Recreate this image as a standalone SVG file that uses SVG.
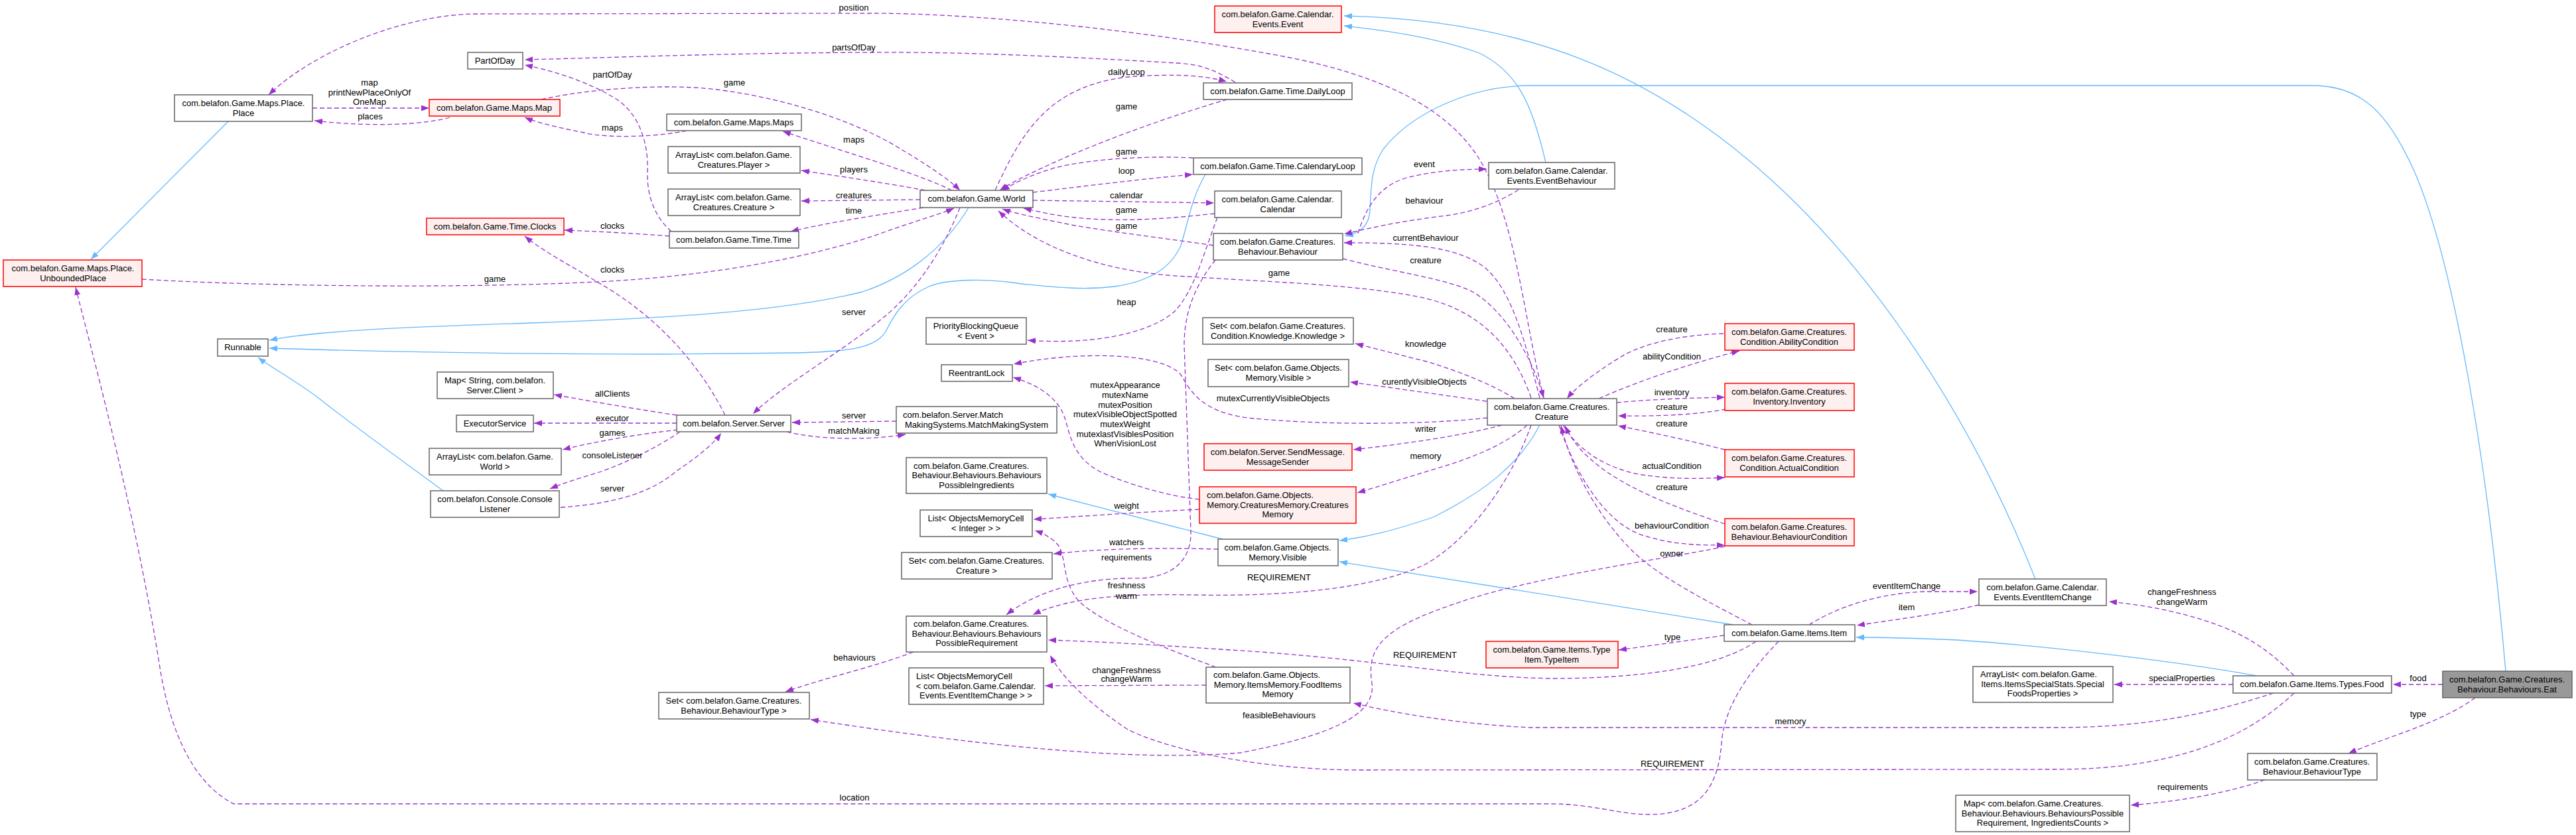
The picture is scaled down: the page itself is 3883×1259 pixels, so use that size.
<svg xmlns="http://www.w3.org/2000/svg" width="3883" height="1259" viewBox="0 0 3883 1259">
<style>
text{font-family:"Liberation Sans",Arial,sans-serif;font-size:13px;fill:#000}
.n rect{fill:#fff;stroke:#666;stroke-width:1.5}
.r rect{fill:#fff0f0;stroke:#f00;stroke-width:1.5}
.g rect{fill:#999;stroke:#666;stroke-width:1.5}
.n text,.r text,.g text{text-anchor:middle}
text.s{text-anchor:start}
.u{fill:none;stroke:#9a32cd;stroke-width:1.3;stroke-dasharray:7,4;marker-end:url(#ap)}
.i{fill:none;stroke:#63b8ff;stroke-width:1.3;marker-end:url(#ab)}
#edges text{text-anchor:middle}
</style>
<defs>
<marker id="ap" markerUnits="userSpaceOnUse" markerWidth="13" markerHeight="10" refX="12" refY="4.5" orient="auto"><path d="M0,0 L12,4.5 L0,9 z" fill="#9a32cd" stroke="none"/></marker>
<marker id="ab" markerUnits="userSpaceOnUse" markerWidth="13" markerHeight="10" refX="12" refY="4.5" orient="auto"><path d="M0,0 L12,4.5 L0,9 z" fill="#63b8ff" stroke="none"/></marker>
</defs>
<rect width="3883" height="1259" fill="#fff"/>
<g id="edges">
<!-- inheritance -->
<path class="i" d="M344,183 L137,391"/>
<path class="i" d="M1460,313 C1420,380 1360,420 1300,440 C1180,470 1000,480 800,487 C620,493 480,498 406,513"/>
<path class="i" d="M1817,263 C1795,300 1790,340 1780,370 C1765,405 1730,425 1680,432 C1630,438 1580,432 1540,428 C1490,420 1430,420 1400,432 C1360,450 1345,480 1335,500 C1320,525 1280,530 1200,532 L1000,534 C700,534 500,528 406,525"/>
<path class="i" d="M668,740 C600,690 530,640 480,600 C440,570 410,555 389,539"/>
<path class="i" d="M3777,1012 C3750,700 3700,400 3640,260 C3600,170 3560,129 3486,129 L2300,129 C2200,132 2120,180 2085,225 C2062,260 2068,300 2064,325 C2060,345 2045,352 2028,356"/>
<path class="i" d="M2330,245 C2310,160 2290,110 2230,80 C2160,55 2080,45 2026,39"/>
<path class="i" d="M3068,873 C2960,600 2800,380 2640,245 C2480,110 2300,30 2026,24"/>
<path class="i" d="M2321,641 C2290,700 2240,740 2160,780 C2100,800 2060,810 2019,815"/>
<path class="i" d="M1843,813 L1580,745"/>
<path class="i" d="M2613,942 L2019,847"/>
<path class="i" d="M3402,1019 C3300,1000 3100,975 2950,965 C2880,962 2830,961 2798,961"/>
<!-- usage -->
<g><path class="u" d="M2327,600 C2295,470 2285,330 2230,240 C2180,160 2080,115 1950,88 C1700,40 1450,20 1313,20 L710,21 C600,25 470,80 405,143"/><text x="1287" y="16">position</text></g>
<g><path class="u" d="M1862,124 C1830,105 1810,97 1773,95 C1600,85 1450,78 1313,79 C1100,80 950,86 791,90"/><text x="1287" y="76">partsOfDay</text></g>
<g><path class="u" d="M1500,287 C1540,200 1580,130 1700,116 C1780,110 1820,115 1849,123"/><text x="1698" y="113">dailyLoop</text></g>
<g><path class="u" d="M1012,349 C990,330 975,300 976,260 C978,210 960,170 930,150 C890,125 840,108 791,98"/><text x="923" y="117">partOfDay</text></g>
<g><path class="u" d="M471,163 L647,163"/><text x="557" y="129">map</text><text x="557" y="144">printNewPlaceOnlyOf</text><text x="557" y="158">OneMap</text></g>
<g><path class="u" d="M678,177 C640,188 560,192 474,182"/><text x="558" y="180">places</text></g>
<g><path class="u" d="M816,150 C880,135 1000,125 1080,135 C1200,150 1300,190 1350,220 C1400,250 1430,270 1447,287"/><text x="1107" y="129">game</text></g>
<g><path class="u" d="M1035,197 C1000,205 920,210 880,200 C840,192 810,185 791,177"/><text x="923" y="197">maps</text></g>
<g><path class="u" d="M1435,287 C1380,260 1260,225 1180,198"/><text x="1287" y="215">maps</text></g>
<g><path class="u" d="M1395,287 C1330,275 1260,265 1208,257"/><text x="1287" y="260">players</text></g>
<g><path class="u" d="M1387,301 L1208,303"/><text x="1287" y="299">creatures</text></g>
<g><path class="u" d="M1392,313 C1320,325 1250,335 1192,349"/><text x="1287" y="322">time</text></g>
<g><path class="u" d="M1009,356 C960,352 900,349 851,347"/><text x="923" y="345">clocks</text></g>
<g><path class="u" d="M1093,626 C1050,540 980,470 900,425 C860,400 820,380 791,356"/><text x="923" y="411">clocks</text></g>
<g><path class="u" d="M214,421 C400,432 700,435 900,425 C1100,415 1250,380 1333,350 C1380,333 1420,322 1438,314"/><text x="746" y="425">game</text></g>
<g><path class="u" d="M1835,328 C1815,380 1800,440 1770,470 C1730,505 1640,520 1549,513"/><text x="1698" y="460">heap</text></g>
<g><path class="u" d="M1850,150 C1780,170 1680,205 1600,240 C1560,258 1530,272 1507,287"/><text x="1698" y="165">game</text></g>
<g><path class="u" d="M1798,238 C1740,235 1650,238 1590,253 C1550,265 1525,278 1510,288"/><text x="1698" y="233">game</text></g>
<g><path class="u" d="M1557,290 C1640,280 1720,270 1798,263"/><text x="1698" y="262">loop</text></g>
<g><path class="u" d="M1557,302 L1830,306"/><text x="1698" y="299">calendar</text></g>
<g><path class="u" d="M1831,322 C1760,330 1690,335 1620,328 C1590,325 1560,318 1543,314"/><text x="1698" y="321">game</text></g>
<g><path class="u" d="M1829,370 C1760,360 1680,350 1620,340 C1570,330 1530,322 1511,315"/><text x="1698" y="345">game</text></g>
<g><path class="u" d="M2308,600 C2280,520 2230,470 2150,450 C2050,428 1900,425 1760,415 C1650,405 1560,370 1505,318"/><text x="1928" y="416">game</text></g>
<g><path class="u" d="M2047,352 C2060,310 2080,280 2120,268 C2160,258 2200,255 2241,255"/><text x="2147" y="252">event</text></g>
<g><path class="u" d="M2289,286 C2260,305 2220,320 2180,325 C2100,335 2060,345 2026,353"/><text x="2147" y="307">behaviour</text></g>
<g><path class="u" d="M2321,600 C2300,520 2280,440 2240,405 C2200,372 2130,366 2026,366"/><text x="2149" y="363">currentBehaviour</text></g>
<g><path class="u" d="M2024,390 C2100,410 2180,420 2220,440 C2270,470 2310,540 2327,600"/><text x="2149" y="397">creature</text></g>
<g><path class="u" d="M2283,601 C2250,580 2200,560 2150,545 C2110,535 2070,525 2043,518"/><text x="2149" y="523">knowledge</text></g>
<g><path class="u" d="M2241,605 C2170,595 2100,585 2035,576"/><text x="2147" y="580">curentlyVisibleObjects</text></g>
<g><path class="u" d="M2242,630 C2150,640 2000,642 1880,630 C1810,620 1795,590 1780,565 C1750,530 1620,530 1528,549"/><text x="1919" y="605">mutexCurrentlyVisibleObjects</text></g>
<g><path class="u" d="M2264,641 C2200,658 2110,670 2040,678"/><text x="2149" y="651">writer</text></g>
<g><path class="u" d="M2302,641 C2270,670 2220,690 2170,705 C2120,720 2080,733 2046,743"/><text x="2149" y="692">memory</text></g>
<g><path class="u" d="M2410,601 C2480,570 2560,545 2622,529"/><text x="2520" y="542">abilityCondition</text></g>
<g><path class="u" d="M2598,503 C2540,505 2480,515 2440,540 C2400,565 2375,585 2362,601"/><text x="2520" y="501">creature</text></g>
<g><path class="u" d="M2437,607 C2490,602 2550,600 2600,599"/><text x="2520" y="596">inventory</text></g>
<g><path class="u" d="M2602,617 C2560,625 2500,628 2439,627"/><text x="2520" y="618">creature</text></g>
<g><path class="u" d="M2600,678 C2550,665 2490,652 2439,642"/><text x="2520" y="643">creature</text></g>
<g><path class="u" d="M2356,641 C2380,680 2420,705 2470,715 C2520,723 2560,722 2600,720"/><text x="2520" y="707">actualCondition</text></g>
<g><path class="u" d="M2600,790 C2540,770 2470,745 2420,710 C2385,685 2370,665 2359,642"/><text x="2520" y="739">creature</text></g>
<g><path class="u" d="M2350,641 C2370,700 2410,780 2470,805 C2520,822 2560,822 2600,822"/><text x="2520" y="797">behaviourCondition</text></g>
<g><path class="u" d="M2641,942 C2580,910 2500,870 2460,830 C2410,780 2370,710 2353,642"/><text x="2520" y="839">owner</text></g>
<g><path class="u" d="M2600,824 C2500,845 2300,870 2180,915 C2080,950 2060,980 2068,1030 C2075,1080 2000,1110 1870,1135 C1700,1150 1450,1120 1222,1085"/><text x="1928" y="1083">feasibleBehaviours</text></g>
<g><path class="u" d="M2308,641 C2280,720 2220,810 2150,850 C2080,885 1950,900 1800,897 C1700,895 1610,900 1557,927"/><text x="1928" y="875">REQUIREMENT</text></g>
<g><path class="u" d="M2647,967 C2600,1000 2500,1023 2337,1023 C2200,1020 2100,998 1900,983 C1780,975 1680,968 1580,965"/><text x="2148" y="992">REQUIREMENT</text></g>
<g><path class="u" d="M3458,1045 C3400,1100 3300,1160 3101,1160 L2050,1161 C1900,1161 1760,1130 1700,1100 C1640,1060 1600,1020 1583,988"/><text x="2521" y="1156">REQUIREMENT</text></g>
<g><path class="u" d="M1832,392 C1810,420 1785,460 1785,520 L1795,800 C1797,850 1760,870 1720,872 C1650,870 1570,885 1517,927"/><text x="1698" y="845">requirements</text></g>
<g><path class="u" d="M1833,1006 C1750,975 1660,940 1625,905 C1600,875 1608,840 1595,822 C1585,810 1572,804 1560,800"/><text x="1698" y="887">freshness</text><text x="1698" y="903">warm</text></g>
<g><path class="u" d="M1808,768 C1720,772 1640,778 1558,783"/><text x="1698" y="767">weight</text></g>
<g><path class="u" d="M1808,753 C1760,748 1700,730 1660,712 C1615,690 1612,650 1605,630 C1595,600 1565,580 1527,569"/><text x="1696" y="585">mutexAppearance</text><text x="1696" y="600">mutexName</text><text x="1696" y="615">mutexPosition</text><text x="1696" y="629">mutexVisibleObjectSpotted</text><text x="1696" y="644">mutexWeight</text><text x="1696" y="659">mutexlastVisiblesPosition</text><text x="1696" y="673">WhenVisionLost</text></g>
<g><path class="u" d="M1836,828 C1760,826 1670,826 1588,835"/><text x="1698" y="822">watchers</text></g>
<g><path class="u" d="M1818,1033 L1575,1034"/><text x="1698" y="1015">changeFreshness</text><text x="1698" y="1028">changeWarm</text></g>
<g><path class="u" d="M1377,983 C1320,1005 1250,1020 1184,1043"/><text x="1288" y="996">behaviours</text></g>
<g><path class="u" d="M3427,1045 C3350,1070 3250,1097 3100,1097 L2308,1097 C2200,1092 2100,1075 2040,1060"/><text x="2699" y="1092">memory</text></g>
<g><path class="u" d="M2681,967 C2640,1010 2600,1060 2595,1120 C2590,1190 2560,1228 2486,1228 C2440,1228 2400,1212 2337,1212 L352,1212 C290,1180 255,1100 240,1000 C200,750 130,500 114,433"/><text x="1288" y="1207">location</text></g>
<g><path class="u" d="M2727,942 C2770,915 2830,895 2900,892 L2981,892"/><text x="2874" y="888">eventItemChange</text></g>
<g><path class="u" d="M2983,912 C2930,925 2870,932 2799,943"/><text x="2874" y="920">item</text></g>
<g><path class="u" d="M3458,1019 C3430,990 3400,965 3350,945 C3290,922 3230,912 3179,907"/><text x="3289" y="897">changeFreshness</text><text x="3289" y="912">changeWarm</text></g>
<g><path class="u" d="M3366,1032 L3187,1032"/><text x="3289" y="1027">specialProperties</text></g>
<g><path class="u" d="M3682,1032 L3607,1032"/><text x="3645" y="1027">food</text></g>
<g><path class="u" d="M3731,1052 C3680,1090 3600,1110 3540,1136"/><text x="3645" y="1081">type</text></g>
<g><path class="u" d="M3414,1176 C3360,1195 3290,1208 3212,1214"/><text x="3290" y="1191">requirements</text></g>
<g><path class="u" d="M2599,958 C2550,965 2490,973 2440,980"/><text x="2521" y="965">type</text></g>
<g><path class="u" d="M1020,626 C960,617 890,605 835,595"/><text x="923" y="598">allClients</text></g>
<g><path class="u" d="M1020,638 L805,638"/><text x="923" y="635">executor</text></g>
<g><path class="u" d="M1022,648 C960,655 900,665 848,678"/><text x="923" y="657">games</text></g>
<g><path class="u" d="M1025,651 C990,675 940,700 900,713 C870,722 850,728 829,737"/><text x="923" y="691">consoleListener</text></g>
<g><path class="u" d="M845,765 C920,760 980,745 1020,710 C1050,690 1075,670 1087,653"/><text x="923" y="741">server</text></g>
<g><path class="u" d="M1447,313 C1420,380 1380,440 1330,480 C1270,530 1180,580 1135,624"/><text x="1287" y="475">server</text></g>
<g><path class="u" d="M1351,635 L1194,637"/><text x="1287" y="631">server</text></g>
<g><path class="u" d="M1186,651 C1230,662 1300,665 1365,655"/><text x="1287" y="654">matchMaking</text></g>
</g>
<g id="nodes">
<g id="place" class="n"><rect x="263" y="143" width="208" height="40"/><text x="367" y="160">com.belafon.Game.Maps.Place.</text><text x="367" y="175">Place</text></g>
<g id="partofday" class="n"><rect x="705" y="79" width="83" height="25"/><text x="746" y="96">PartOfDay</text></g>
<g id="map" class="r"><rect x="647" y="150" width="197" height="25"/><text x="745" y="167">com.belafon.Game.Maps.Map</text></g>
<g id="clocks" class="r"><rect x="643" y="329" width="207" height="25"/><text x="746" y="346">com.belafon.Game.Time.Clocks</text></g>
<g id="unboundedplace" class="r"><rect x="5" y="392" width="209" height="40"/><text x="110" y="409">com.belafon.Game.Maps.Place.</text><text x="110" y="424">UnboundedPlace</text></g>
<g id="runnable" class="n"><rect x="328" y="511" width="76" height="26"/><text x="366" y="528">Runnable</text></g>
<g id="mapclient" class="n"><rect x="659" y="561" width="175" height="40"/><text x="746" y="578">Map&lt; String, com.belafon.</text><text x="746" y="593">Server.Client &gt;</text></g>
<g id="executorservice" class="n"><rect x="688" y="626" width="116" height="25"/><text x="746" y="643">ExecutorService</text></g>
<g id="arraylistworld" class="n"><rect x="647" y="676" width="199" height="40"/><text x="746" y="693">ArrayList&lt; com.belafon.Game.</text><text x="746" y="708">World &gt;</text></g>
<g id="consolelistener" class="n"><rect x="649" y="740" width="194" height="40"/><text x="746" y="757">com.belafon.Console.Console</text><text x="746" y="772">Listener</text></g>
<g id="maps" class="n"><rect x="1005" y="172" width="203" height="25"/><text x="1106" y="189">com.belafon.Game.Maps.Maps</text></g>
<g id="alplayer" class="n"><rect x="1007" y="221" width="199" height="40"/><text x="1106" y="238">ArrayList&lt; com.belafon.Game.</text><text x="1106" y="253">Creatures.Player &gt;</text></g>
<g id="alcreature" class="n"><rect x="1007" y="285" width="199" height="40"/><text x="1106" y="302">ArrayList&lt; com.belafon.Game.</text><text x="1106" y="317">Creatures.Creature &gt;</text></g>
<g id="time" class="n"><rect x="1009" y="349" width="195" height="25"/><text x="1106" y="366">com.belafon.Game.Time.Time</text></g>
<g id="world" class="n"><rect x="1387" y="287" width="170" height="26"/><text x="1472" y="304">com.belafon.Game.World</text></g>
<g id="server" class="n"><rect x="1020" y="626" width="172" height="25"/><text x="1106" y="643">com.belafon.Server.Server</text></g>
<g id="pq" class="n"><rect x="1396" y="479" width="151" height="40"/><text x="1471" y="496">PriorityBlockingQueue</text><text x="1471" y="511">&lt; Event &gt;</text></g>
<g id="reentrantlock" class="n"><rect x="1419" y="550" width="107" height="25"/><text x="1472" y="567">ReentrantLock</text></g>
<g id="mms" class="n"><rect x="1351" y="613" width="242" height="40"/><text class="s" x="1361" y="630">com.belafon.Server.Match</text><text x="1472" y="645">MakingSystems.MatchMakingSystem</text></g>
<g id="possibleingredients" class="n"><rect x="1366" y="690" width="212" height="54"/><text class="s" x="1377" y="707">com.belafon.Game.Creatures.</text><text x="1472" y="721">Behaviour.Behaviours.Behaviours</text><text x="1472" y="736">PossibleIngredients</text></g>
<g id="listinteger" class="n"><rect x="1387" y="769" width="169" height="40"/><text x="1471" y="786">List&lt; ObjectsMemoryCell</text><text x="1471" y="801">&lt; Integer &gt; &gt;</text></g>
<g id="setcreature" class="n"><rect x="1359" y="833" width="227" height="40"/><text x="1472" y="850">Set&lt; com.belafon.Game.Creatures.</text><text x="1472" y="865">Creature &gt;</text></g>
<g id="possiblerequirement" class="n"><rect x="1366" y="929" width="212" height="54"/><text class="s" x="1377" y="945">com.belafon.Game.Creatures.</text><text x="1472" y="960">Behaviour.Behaviours.Behaviours</text><text x="1472" y="974">PossibleRequirement</text></g>
<g id="listeic" class="n"><rect x="1370" y="1007" width="203" height="55"/><text class="s" x="1381" y="1024">List&lt; ObjectsMemoryCell</text><text x="1471" y="1039">&lt; com.belafon.Game.Calendar.</text><text x="1471" y="1053">Events.EventItemChange &gt; &gt;</text></g>
<g id="setbehaviourtype" class="n"><rect x="993" y="1044" width="227" height="40"/><text x="1106" y="1061">Set&lt; com.belafon.Game.Creatures.</text><text x="1106" y="1076">Behaviour.BehaviourType &gt;</text></g>
<g id="event" class="r"><rect x="1831" y="9" width="191" height="40"/><text x="1926" y="26">com.belafon.Game.Calendar.</text><text x="1926" y="41">Events.Event</text></g>
<g id="dailyloop" class="n"><rect x="1814" y="125" width="224" height="25"/><text x="1926" y="142">com.belafon.Game.Time.DailyLoop</text></g>
<g id="calendaryloop" class="n"><rect x="1799" y="238" width="254" height="25"/><text x="1926" y="255">com.belafon.Game.Time.CalendaryLoop</text></g>
<g id="calendar" class="n"><rect x="1831" y="288" width="191" height="40"/><text x="1926" y="305">com.belafon.Game.Calendar.</text><text x="1926" y="320">Calendar</text></g>
<g id="behaviour" class="n"><rect x="1829" y="352" width="195" height="40"/><text x="1926" y="369">com.belafon.Game.Creatures.</text><text x="1926" y="384">Behaviour.Behaviour</text></g>
<g id="eventbehaviour" class="n"><rect x="2244" y="245" width="190" height="40"/><text x="2339" y="262">com.belafon.Game.Calendar.</text><text x="2339" y="277">Events.EventBehaviour</text></g>
<g id="setknowledge" class="n"><rect x="1813" y="479" width="227" height="40"/><text x="1926" y="496">Set&lt; com.belafon.Game.Creatures.</text><text x="1926" y="511">Condition.Knowledge.Knowledge &gt;</text></g>
<g id="setvisible" class="n"><rect x="1821" y="542" width="212" height="41"/><text x="1927" y="559">Set&lt; com.belafon.Game.Objects.</text><text x="1927" y="574">Memory.Visible &gt;</text></g>
<g id="sendmessagesender" class="r"><rect x="1815" y="669" width="223" height="40"/><text x="1926" y="686">com.belafon.Server.SendMessage.</text><text x="1926" y="701">MessageSender</text></g>
<g id="creaturesmemory" class="r"><rect x="1808" y="734" width="236" height="55"/><text class="s" x="1819" y="751">com.belafon.Game.Objects.</text><text x="1926" y="766">Memory.CreaturesMemory.Creatures</text><text x="1926" y="780">Memory</text></g>
<g id="visible" class="n"><rect x="1836" y="813" width="181" height="40"/><text x="1926" y="830">com.belafon.Game.Objects.</text><text x="1926" y="845">Memory.Visible</text></g>
<g id="fooditemsmemory" class="n"><rect x="1818" y="1006" width="217" height="54"/><text class="s" x="1829" y="1022">com.belafon.Game.Objects.</text><text x="1926" y="1037">Memory.ItemsMemory.FoodItems</text><text x="1926" y="1051">Memory</text></g>
<g id="creature" class="n"><rect x="2242" y="601" width="195" height="40"/><text x="2339" y="618">com.belafon.Game.Creatures.</text><text x="2339" y="633">Creature</text></g>
<g id="abilitycondition" class="r"><rect x="2600" y="488" width="195" height="40"/><text x="2697" y="505">com.belafon.Game.Creatures.</text><text x="2697" y="520">Condition.AbilityCondition</text></g>
<g id="inventory" class="r"><rect x="2600" y="578" width="195" height="41"/><text x="2697" y="595">com.belafon.Game.Creatures.</text><text x="2697" y="610">Inventory.Inventory</text></g>
<g id="actualcondition" class="r"><rect x="2600" y="678" width="195" height="41"/><text x="2697" y="695">com.belafon.Game.Creatures.</text><text x="2697" y="710">Condition.ActualCondition</text></g>
<g id="behaviourcondition" class="r"><rect x="2600" y="782" width="195" height="41"/><text x="2697" y="799">com.belafon.Game.Creatures.</text><text x="2697" y="814">Behaviour.BehaviourCondition</text></g>
<g id="item" class="n"><rect x="2599" y="942" width="197" height="25"/><text x="2697" y="959">com.belafon.Game.Items.Item</text></g>
<g id="typeitem" class="r"><rect x="2240" y="967" width="199" height="40"/><text x="2339" y="984">com.belafon.Game.Items.Type</text><text x="2339" y="999">Item.TypeItem</text></g>
<g id="eventitemchange" class="n"><rect x="2983" y="873" width="192" height="40"/><text x="3079" y="890">com.belafon.Game.Calendar.</text><text x="3079" y="905">Events.EventItemChange</text></g>
<g id="alspecial" class="n"><rect x="2974" y="1005" width="211" height="54"/><text class="s" x="2985" y="1021">ArrayList&lt; com.belafon.Game.</text><text x="3079" y="1036">Items.ItemsSpecialStats.Special</text><text x="3079" y="1050">FoodsProperties &gt;</text></g>
<g id="food" class="n"><rect x="3366" y="1019" width="239" height="26"/><text x="3485" y="1036">com.belafon.Game.Items.Types.Food</text></g>
<g id="eat" class="g"><rect x="3682" y="1012" width="195" height="40"/><text x="3779" y="1029">com.belafon.Game.Creatures.</text><text x="3779" y="1044">Behaviour.Behaviours.Eat</text></g>
<g id="behaviourtype" class="n"><rect x="3388" y="1136" width="195" height="40"/><text x="3485" y="1153">com.belafon.Game.Creatures.</text><text x="3485" y="1168">Behaviour.BehaviourType</text></g>
<g id="mapreq" class="n"><rect x="2948" y="1199" width="262" height="55"/><text class="s" x="2960" y="1216">Map&lt; com.belafon.Game.Creatures.</text><text x="3079" y="1231">Behaviour.Behaviours.BehavioursPossible</text><text x="3079" y="1245">Requirement, IngredientsCounts &gt;</text></g>
</g>
</svg>
